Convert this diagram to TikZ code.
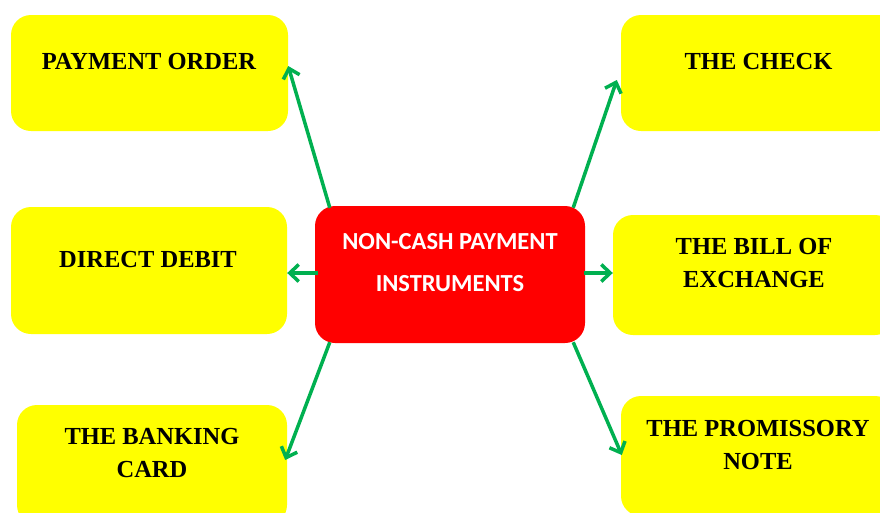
\documentclass[tikz,border=0pt]{standalone}
\usepackage{fontspec}
\setmainfont{Liberation Serif}
\newfontfamily\carlito{Carlito}
\usetikzlibrary{arrows.meta,calc}
\definecolor{boxyellow}{HTML}{FFFF00}
\definecolor{boxred}{HTML}{FF0000}
\definecolor{arrgreen}{HTML}{00B050}
\tikzset{
  ybox/.style={fill=boxyellow, draw=none, rounded corners=20pt, inner sep=0pt},
  ytext/.style={align=center, font=\fontsize{24.5}{33}\selectfont\bfseries, text=black, inner sep=0pt},
  cbox/.style={fill=boxred, draw=none, rounded corners=20pt, inner sep=0pt},
  ctext/.style={align=center, font=\carlito\fontsize{24.5}{42}\selectfont\bfseries, text=white, inner sep=0pt},
  arr/.style={draw=arrgreen, line width=3.5pt, -{Straight Barb[length=9pt,width=17pt,line width=3.5pt]}}
}
\begin{document}
\begin{tikzpicture}[x=1pt,y=-1pt]
\clip (0,0) rectangle (880,512);
\fill[white] (0,0) rectangle (880,512);
% boxes
\node[ybox, minimum width=277pt, minimum height=116pt] (po) at (149.5,73) {};
\node[ytext] (pot) at (149,62) {PAYMENT ORDER};
\node[ybox, minimum width=277pt, minimum height=116pt] (ck) at (759.5,73) {};
\node[ytext] (ckt) at (758.5,62) {THE CHECK};
\node[ybox, minimum width=276pt, minimum height=127pt] (dd) at (149,270.5) {};
\node[ytext] (ddt) at (148,260) {DIRECT DEBIT};
\node[ybox, minimum width=282pt, minimum height=120pt] (be) at (754,275) {};
\node[ytext] (bet) at (754,263.5) {THE BILL OF\\EXCHANGE};
\node[ybox, minimum width=270pt, minimum height=120pt] (bc) at (152,465) {};
\node[ytext] (bct) at (152,453) {THE BANKING\\CARD};
\node[ybox, minimum width=274pt, minimum height=120pt] (pn) at (758,456) {};
\node[ytext] (pnt) at (758,444.5) {THE PROMISSORY\\NOTE};
% center
\node[cbox, minimum width=270pt, minimum height=137pt] (c) at (450,274.5) {};
\node[ctext] (ct) at (450,263) {NON-CASH PAYMENT\\INSTRUMENTS};
% arrows
\draw[arr] ([xshift=15pt,yshift=-2pt]c.north west) -- ([yshift=7pt]po.east);
\draw[arr] ([xshift=-12pt,yshift=-2pt]c.north east) -- ([xshift=-4pt,yshift=-7pt]ck.west);
\draw[arr] ([xshift=3pt,yshift=1.5pt]c.west) -- ([yshift=-2.5pt]dd.east);
\draw[arr] ([xshift=-1pt,yshift=1.5pt]c.east) -- ([yshift=2pt]be.west);
\draw[arr] ([xshift=15pt,yshift=1pt]c.south west) -- ([xshift=-2pt,yshift=5pt]bc.east);
\draw[arr] ([xshift=-12pt,yshift=1pt]c.south east) -- ([xshift=1pt,yshift=1pt]pn.west);
\end{tikzpicture}
\end{document}
